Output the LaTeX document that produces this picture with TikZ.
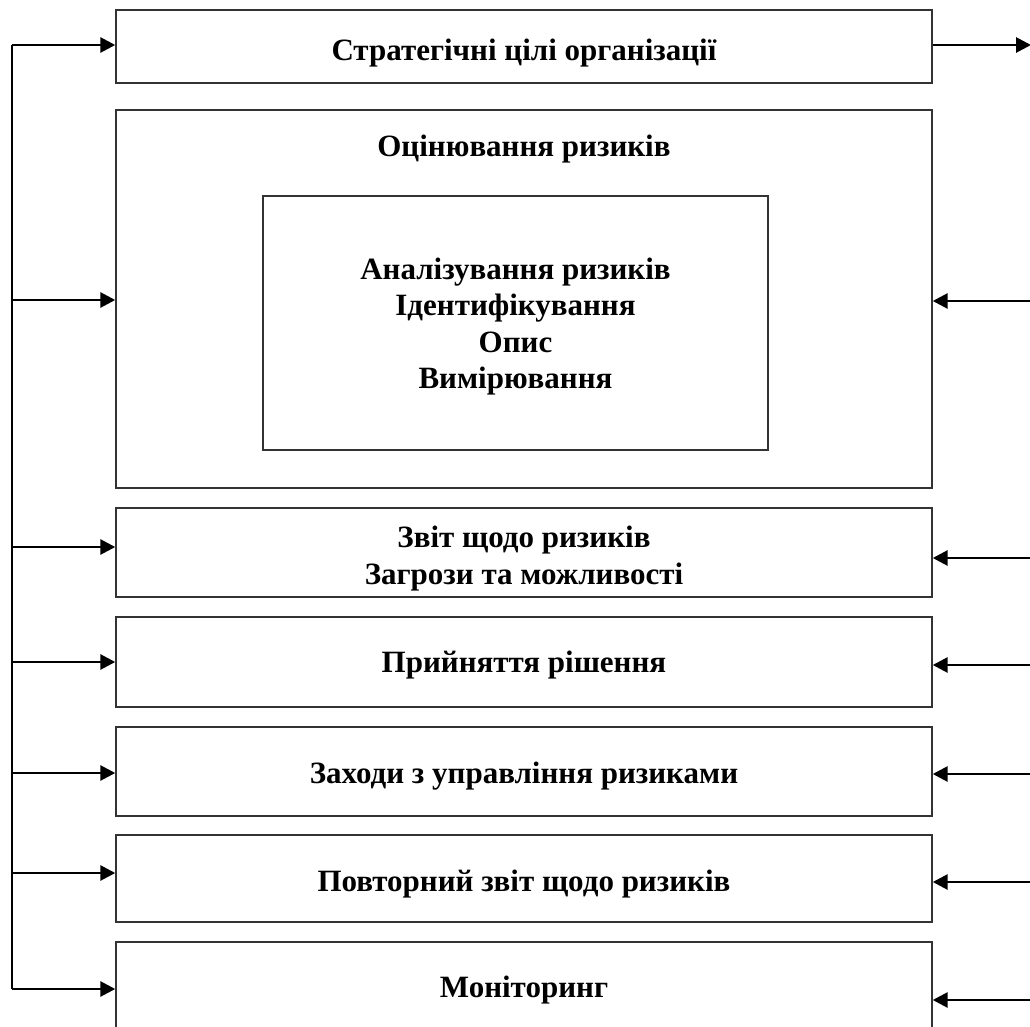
\documentclass[tikz,border=0pt]{standalone}
\usepackage{fontspec}
\setmainfont{Liberation Serif}
\usetikzlibrary{arrows.meta}
\begin{document}
\begin{tikzpicture}[x=1pt,y=-1pt,
  box/.style={draw=black!80, line width=1.4pt, minimum width=816pt, inner sep=0pt},
  label/.style={font=\bfseries\fontsize{31}{37}\selectfont, anchor=base, inner sep=0pt},
  arr/.style={line width=2.8pt, -{Triangle[length=15pt,width=15pt]}},
  bus/.style={line width=2.8pt}]
\useasboundingbox (0,0) rectangle (1030,1027);
\fill[white] (0,0) rectangle (1030,1027);

% process boxes
\node[box, minimum height=73pt]  (goals)   at (524,46.5) {};
\node[box, minimum height=378pt] (assess)  at (524,299) {};
\node[box, minimum width=505pt, minimum height=254pt] (analysis) at (515.5,323) {};
\node[box, minimum height=89pt]  (report)  at (524,552.5) {};
\node[box, minimum height=90pt]  (decide)  at (524,662) {};
\node[box, minimum height=89pt]  (measures) at (524,771.5) {};
\node[box, minimum height=87pt]  (rereport) at (524,878.5) {};
\node[box, minimum height=93pt]  (monitor) at (524,988.5) {};

% texts, placed by their baselines
\node[label] (tgoals)    at (524,61)  {Стратегічні цілі організації};
\node[label] (tassess)   at (524,157) {Оцінювання ризиків};
\node[label] (tanal1)    at (515.5,279) {Аналізування ризиків};
\node[label] (tanal2)    at (515.5,315) {Ідентифікування};
\node[label] (tanal3)    at (515.5,352) {Опис};
\node[label] (tanal4)    at (515.5,388) {Вимірювання};
\node[label] (treport1)  at (524,547) {Звіт щодо ризиків};
\node[label] (treport2)  at (524,584) {Загрози та можливості};
\node[label] (tdecide)   at (524,672) {Прийняття рішення};
\node[label] (tmeasures) at (524,783) {Заходи з управління ризиками};
\node[label] (trereport) at (524,891) {Повторний звіт щодо ризиків};
\node[label] (tmonitor)  at (524,997) {Моніторинг};

% feedback bus on the left
\coordinate (l1) at (12,45);
\coordinate (l2) at (12,300);
\coordinate (l3) at (12,547);
\coordinate (l4) at (12,662);
\coordinate (l5) at (12,773);
\coordinate (l6) at (12,873);
\coordinate (l7) at (12,989);
\draw[bus] (l1) -- (l7);
\draw[arr] (l1) -- (l1 -| goals.west);
\draw[arr] (l2) -- (l2 -| assess.west);
\draw[arr] (l3) -- (l3 -| report.west);
\draw[arr] (l4) -- (l4 -| decide.west);
\draw[arr] (l5) -- (l5 -| measures.west);
\draw[arr] (l6) -- (l6 -| rereport.west);
\draw[arr] (l7) -- (l7 -| monitor.west);

% inputs and output on the right
\coordinate (r1) at (1031,45);
\coordinate (r2) at (1031,301);
\coordinate (r3) at (1031,558);
\coordinate (r4) at (1031,665);
\coordinate (r5) at (1031,774);
\coordinate (r6) at (1031,882);
\coordinate (r7) at (1031,1000);
\draw[arr] (r1 -| goals.east) -- (r1);
\draw[arr] (r2) -- (r2 -| assess.east);
\draw[arr] (r3) -- (r3 -| report.east);
\draw[arr] (r4) -- (r4 -| decide.east);
\draw[arr] (r5) -- (r5 -| measures.east);
\draw[arr] (r6) -- (r6 -| rereport.east);
\draw[arr] (r7) -- (r7 -| monitor.east);
\end{tikzpicture}
\end{document}
